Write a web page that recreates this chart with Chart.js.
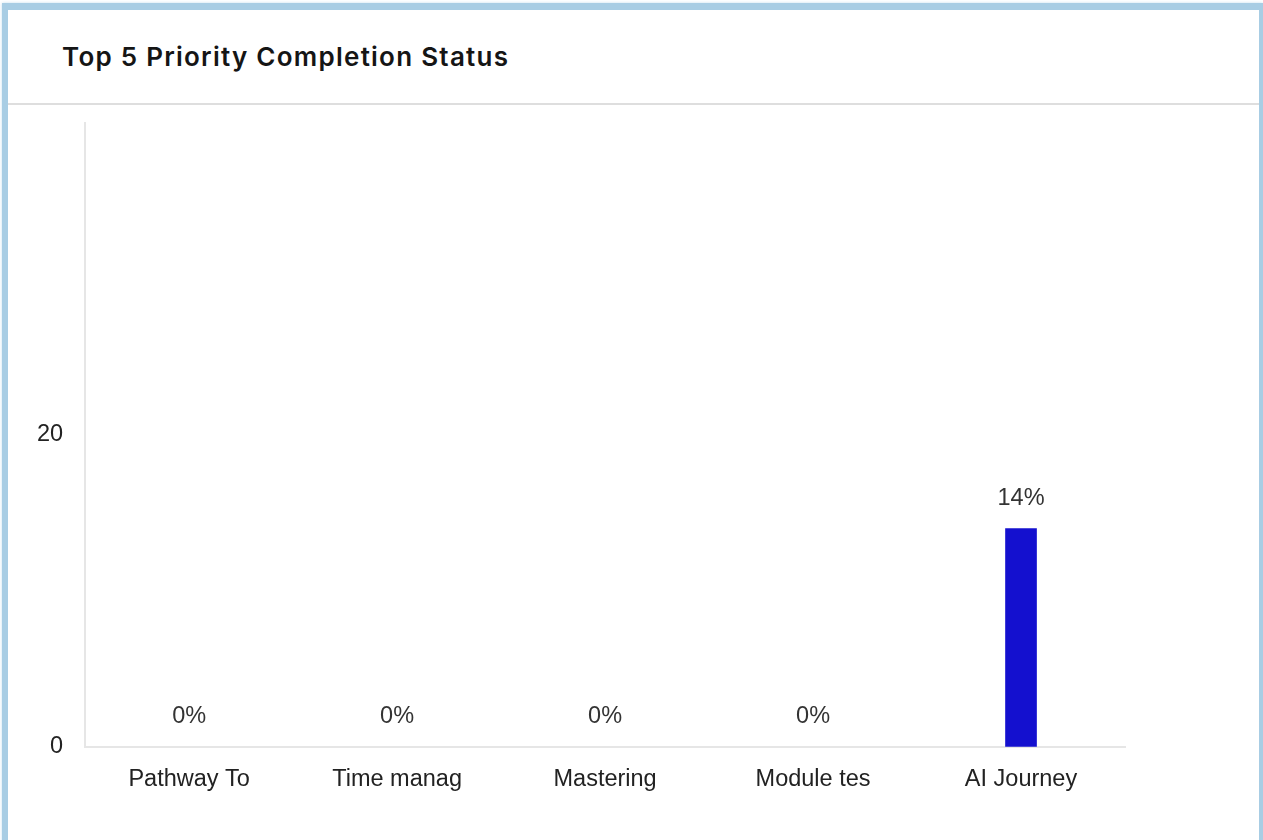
<!DOCTYPE html>
<html>
<head>
<meta charset="utf-8">
<script src="https://cdn.jsdelivr.net/npm/chart.js@4.4.1/dist/chart.umd.min.js"></script>
<style>
  html, body { margin: 0; padding: 0; background: #fff; width: 1263px; height: 840px; overflow: hidden; }
  .card {
    position: absolute; left: 2px; top: 3px; width: 1251px; height: 850px;
    border-left: 6px solid #a8cde4; border-top: 7px solid #a8cde4; border-right: 4px solid #a8cde4;
    box-shadow: 0 0 3px #c6e0ef;
    background: #fff;
  }
  .head {
    height: 95px; border-bottom: 2px solid #dedede;
    font-family: Inter, "Open Sans", sans-serif; font-weight: 600; font-size: 26px; letter-spacing: 1.25px;
    color: #151515; line-height: 94px; padding-left: 54px; box-sizing: border-box;
  }
  .wrap { position: absolute; left: 0; top: 85px; width: 1251px; height: 737px; }
</style>
</head>
<body>
<div class="card">
  <div class="head">Top 5 Priority Completion Status</div>
  <div class="wrap"><canvas id="priorityChart"></canvas></div>
</div>
<script>
const categories = ['Pathway To', 'Time manag', 'Mastering', 'Module tes', 'AI Journey'];
const completion = [0, 0, 0, 0, 14];
const yTicks = [0, 20];
const yMax = 40;

const labelFont = 'Liberation Sans, Arial, sans-serif';

// draw the "n%" labels above each bar
const valueLabels = {
  id: 'valueLabels',
  afterDatasetsDraw(chart) {
    const ctx = chart.ctx;
    const meta = chart.getDatasetMeta(0);
    ctx.save();
    ctx.font = '23.5px ' + labelFont;
    ctx.fillStyle = '#333';
    ctx.textAlign = 'center';
    ctx.textBaseline = 'middle';
    meta.data.forEach((bar, i) => {
      ctx.fillText(completion[i] + '%', bar.x, bar.y - 30);
    });
    ctx.restore();
  }
};

const ctx = document.getElementById('priorityChart').getContext('2d');
new Chart(ctx, {
  type: 'bar',
  data: {
    labels: categories,
    datasets: [{
      data: completion,
      // zero bars leave no mark in the original
      backgroundColor: c => c.raw > 0 ? '#1410cf' : 'rgba(0,0,0,0)',
      borderWidth: 0,
      barThickness: 31
    }]
  },
  options: {
    responsive: true,
    maintainAspectRatio: false,
    animation: false,
    layout: { padding: { left: 15, right: 134, top: 8, bottom: 27 } },
    plugins: { legend: { display: false }, tooltip: { enabled: false } },
    scales: {
      x: {
        grid: { display: false },
        border: { color: '#e6e6e6', width: 2 },
        ticks: { color: '#222', padding: 11, font: { size: 23.5, family: labelFont } }
      },
      y: {
        min: 0,
        max: yMax,
        grid: { display: false },
        border: { color: '#e6e6e6', width: 2 },
        afterBuildTicks: (axis) => { axis.ticks = yTicks.map(v => ({ value: v })); },
        ticks: { color: '#222', padding: 14, font: { size: 23.5, family: labelFont } }
      }
    }
  },
  plugins: [valueLabels]
});
</script>
</body>
</html>
